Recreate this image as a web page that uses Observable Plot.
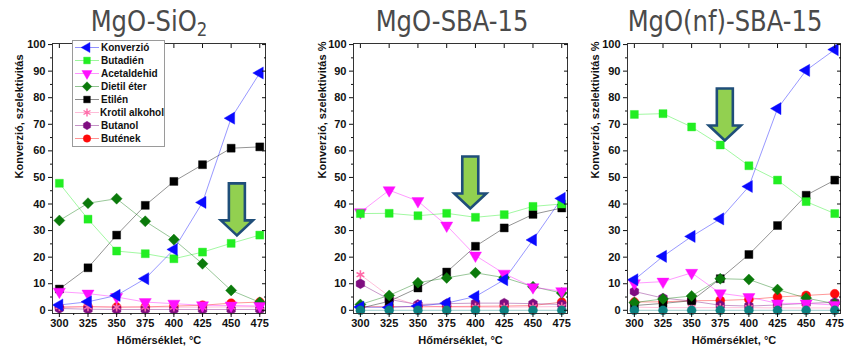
<!DOCTYPE html>
<html>
<head>
<meta charset="utf-8">
<script src="https://cdn.jsdelivr.net/npm/d3@7"></script>
<script src="https://cdn.jsdelivr.net/npm/@observablehq/plot@0.6"></script>
<style>
  body { margin: 0; background: #fff; font-family: "Liberation Sans", Arial, sans-serif; }
  #wrap { position: relative; width: 844px; height: 349px; overflow: hidden; background: #fff; }
  .panel { position: absolute; top: 0; }
  .title { position: absolute; top: 7px; line-height: 1; font-family: "Liberation Sans Narrow", "DejaVu Sans Condensed", sans-serif; font-size: 29px; color: #4a4a4a; white-space: nowrap; transform: translateX(-50%) scaleX(0.93); }
  .title sub { font-size: 0.68em; vertical-align: -0.25em; line-height: 0; }
  .legend { position: absolute; left: 72px; top: 40px; width: 93px; background: #fff; border: 1px solid #9a9a9a; padding: 0 0 1px 0; box-sizing: border-box; }
  .legend .row { display: flex; align-items: center; height: 13px; font-size: 10px; font-weight: bold; color: #111; white-space: nowrap; }
  .legend svg { display: block; margin-right: 1px; }
</style>
</head>
<body>
<div id="wrap"></div>
<script>
// ---- data ----
const temps = [300, 325, 350, 375, 400, 425, 450, 475];
const seriesNames = ["Konverzió", "Butadién", "Acetaldehid", "Dietil éter", "Etilén", "Krotil alkohol", "Butanol", "Butének"];
const panelTitles = ["MgO-SiO<sub>2</sub>", "MgO-SBA-15", "MgO(nf)-SBA-15"];
const yLabels = ["Konverzió, szelektivitás", "Konverzió, szelektivitás %", "Konverzió, szelektivitás %"];
const xLabel = "Hőmérséklet, °C";
const yTicks = [0, 10, 20, 30, 40, 50, 60, 70, 80, 90, 100];

// MgO-SiO2
const sio2Konverzio    = [2.0, 3.2, 5.6, 11.9, 22.9, 40.6, 72.3, 89.3];
const sio2Butadien     = [47.8, 34.3, 22.3, 21.3, 19.4, 21.9, 25.2, 28.3];
const sio2Acetaldehid  = [7.0, 6.3, 5.0, 3.1, 2.5, 1.9, 1.8, 1.6];
const sio2Dietileter   = [33.8, 40.3, 42.0, 33.5, 26.6, 17.5, 7.5, 3.0];
const sio2Etilen       = [8.0, 16.0, 28.3, 39.5, 48.5, 54.8, 61.0, 61.5];
const sio2Krotil       = [1.4, 1.3, 1.2, 1.2, 1.2, 1.2, 1.3, 1.3];
const sio2Butanol      = [0.7, 0.4, 0.3, 0.3, 0.3, 0.3, 0.3, 0.3];
const sio2Butenek      = [1.1, 1.4, 1.2, 1.3, 1.6, 1.9, 2.7, 3.1];
const sio2Egyeb        = [];

// MgO-SBA-15
const sbaKonverzio     = [1.2, 1.1, 1.6, 2.7, 5.2, 11.5, 26.5, 42.1];
const sbaButadien      = [36.4, 36.5, 35.6, 36.5, 35.0, 36.0, 39.1, 40.0];
const sbaAcetaldehid   = [36.9, 45.2, 41.1, 31.9, 20.6, 13.8, 8.7, 7.2];
const sbaDietileter    = [2.2, 5.6, 10.4, 12.2, 14.1, 12.3, 8.9, 6.5];
const sbaEtilen        = [0.8, 3.4, 8.4, 14.4, 24.1, 31.0, 36.1, 38.5];
const sbaKrotil        = [13.4, 5.3, 1.8, 1.2, 1.2, 1.2, 1.3, 1.4];
const sbaButanol       = [10.0, 4.1, 2.2, 2.5, 2.7, 2.7, 2.5, 2.2];
const sbaButenek       = [1.3, 1.4, 1.3, 1.4, 1.5, 1.6, 1.8, 3.1];
const sbaEgyeb         = [0, 0, 0, 0, 0, 0, 0, 0];

// MgO(nf)-SBA-15
const nfKonverzio      = [11.5, 20.3, 27.8, 34.4, 46.6, 75.9, 90.3, 98.1];
const nfButadien       = [73.7, 74.0, 69.0, 62.2, 54.4, 49.0, 40.9, 36.4];
const nfAcetaldehid    = [10.2, 10.8, 14.1, 6.4, 5.0, 2.6, 2.6, 2.0];
const nfDietileter     = [2.9, 4.3, 5.4, 11.9, 11.6, 7.8, 4.6, 2.5];
const nfEtilen         = [1.8, 2.6, 3.6, 11.9, 21.0, 31.9, 43.3, 49.0];
const nfKrotil         = [1.2, 1.0, 1.0, 1.0, 1.0, 0.9, 0.9, 0.9];
const nfButanol        = [7.1, 4.6, 3.5, 1.9, 1.6, 2.0, 2.6, 3.0];
const nfButenek        = [3.1, 3.2, 3.6, 3.7, 4.1, 5.0, 5.6, 6.2];
const nfEgyeb          = [0, 0, 0, 0, 0, 0, 0, 0];

// annotation arrows (tip position in data units)
const arrowTemp  = [455, 395.5, 379];
const arrowValue = [28.2, 38.3, 63.9];

// ---- styles ----
const hexagon = { draw(ctx, size) { const r = Math.sqrt(size / 2.598); for (let i = 0; i < 6; i++) { const a = Math.PI / 3 * i + Math.PI / 6; const px = r * Math.cos(a), py = r * Math.sin(a); i ? ctx.lineTo(px, py) : ctx.moveTo(px, py); } ctx.closePath(); } };
const arrowSymbol = { draw(ctx) { ctx.moveTo(0, 0); ctx.lineTo(-16, -15); ctx.lineTo(-8, -15); ctx.lineTo(-8, -52); ctx.lineTo(8, -52); ctx.lineTo(8, -15); ctx.lineTo(16, -15); ctx.closePath(); } };

const styles = {
  "Konverzió":      { color: "#0a0aff", symbol: "triangle", d3sym: d3.symbolTriangle, rotate: -90 },
  "Butadién":       { color: "#22ee22", symbol: "square",   d3sym: d3.symbolSquare,   rotate: 0 },
  "Acetaldehid":    { color: "#ff10ff", symbol: "triangle", d3sym: d3.symbolTriangle, rotate: 180 },
  "Dietil éter":    { color: "#0b7a0b", symbol: "square",   d3sym: d3.symbolSquare,   rotate: 45 },
  "Etilén":         { color: "#000000", symbol: "square",   d3sym: d3.symbolSquare,   rotate: 0 },
  "Krotil alkohol": { color: "#ff6aa8", symbol: "asterisk", d3sym: d3.symbolAsterisk, rotate: 0, stroked: true },
  "Butanol":        { color: "#7f0d80", symbol: hexagon,    d3sym: hexagon,           rotate: 0 },
  "Butének":        { color: "#ff0a0a", symbol: "circle",   d3sym: d3.symbolCircle,   rotate: 0 },
  "Egyéb":          { color: "#0b8080", symbol: "circle",   d3sym: d3.symbolCircle,   rotate: 0 }
};
const drawOrder = ["Butének", "Butanol", "Krotil alkohol", "Etilén", "Dietil éter", "Acetaldehid", "Butadién", "Konverzió", "Egyéb"];

const panelValues = [
  { "Konverzió": sio2Konverzio, "Butadién": sio2Butadien, "Acetaldehid": sio2Acetaldehid, "Dietil éter": sio2Dietileter, "Etilén": sio2Etilen, "Krotil alkohol": sio2Krotil, "Butanol": sio2Butanol, "Butének": sio2Butenek, "Egyéb": sio2Egyeb },
  { "Konverzió": sbaKonverzio, "Butadién": sbaButadien, "Acetaldehid": sbaAcetaldehid, "Dietil éter": sbaDietileter, "Etilén": sbaEtilen, "Krotil alkohol": sbaKrotil, "Butanol": sbaButanol, "Butének": sbaButenek, "Egyéb": sbaEgyeb },
  { "Konverzió": nfKonverzio, "Butadién": nfButadien, "Acetaldehid": nfAcetaldehid, "Dietil éter": nfDietileter, "Etilén": nfEtilen, "Krotil alkohol": nfKrotil, "Butanol": nfButanol, "Butének": nfButenek, "Egyéb": nfEgyeb }
];

const layout = [
  { left: 0,   width: 270, ml: 52, mr: 5, ydx: -33, titleX: 149 },
  { left: 300, width: 270, ml: 53, mr: 3, ydx: -31, titleX: 452 },
  { left: 574, width: 270, ml: 53, mr: 4, ydx: -32, titleX: 725 }
];

const wrap = document.getElementById("wrap");
const minorX = d3.range(312.5, 480, 25);
const minorY = d3.range(5, 100, 10);

layout.forEach((L, i) => {
  const vals = panelValues[i];
  const marks = [];
  for (const name of drawOrder) {
    const v = vals[name];
    if (!v || !v.length) continue;
    const rows = temps.map((t, j) => ({ t, v: v[j] }));
    marks.push(Plot.line(rows, { x: "t", y: "v", stroke: styles[name].color, strokeOpacity: 0.42, strokeWidth: 1 }));
  }
  for (const name of drawOrder) {
    const v = vals[name];
    if (!v || !v.length) continue;
    const s = styles[name];
    const rows = temps.map((t, j) => ({ t, v: v[j] }));
    if (s.stroked) {
      marks.push(Plot.dot(rows, { x: "t", y: "v", symbol: s.symbol, r: 4.2, stroke: s.color, strokeWidth: 1.6, fill: "none" }));
    } else {
      marks.push(Plot.dot(rows, { x: "t", y: "v", symbol: s.symbol, r: name === "Dietil éter" ? 4.4 : 4.5, rotate: s.rotate, fill: s.color, stroke: s.color, strokeWidth: 0.4 }));
    }
  }
  marks.push(Plot.dot([{ t: arrowTemp[i], v: arrowValue[i] }], { x: "t", y: "v", symbol: arrowSymbol, r: 5, fill: "#92d050", stroke: "#1f4e79", strokeWidth: 2.6, strokeLinejoin: "miter" }));
  marks.push(
    Plot.frame({ stroke: "#333", strokeWidth: 1 }),
    Plot.axisX({ ticks: temps, tickSize: 4, tickPadding: 2, label: null, tickFormat: d => String(d) }),
    Plot.axisX({ ticks: minorX, tickSize: 2, label: null, tickFormat: () => "" }),
    Plot.axisX({ anchor: "top", ticks: temps, tickSize: -4, label: null, tickFormat: () => "" }),
    Plot.axisY({ ticks: yTicks, tickSize: 4, tickPadding: 3, label: null, tickFormat: d => String(d) }),
    Plot.axisY({ ticks: minorY, tickSize: 2, label: null, tickFormat: () => "" }),
    Plot.axisY({ anchor: "right", ticks: yTicks, tickSize: -4, label: null, tickFormat: () => "" }),
    Plot.axisY({ anchor: "right", ticks: minorY, tickSize: -2, label: null, tickFormat: () => "" }),
    Plot.text([yLabels[i]], { frameAnchor: "left", dx: L.ydx, rotate: -90, fontSize: 11, fontWeight: "bold", fill: "#111" }),
    Plot.text([xLabel], { frameAnchor: "bottom", dy: 30, fontSize: 11, fontWeight: "bold", fill: "#111" })
  );
  const plot = Plot.plot({
    width: L.width,
    height: 349,
    marginLeft: L.ml,
    marginRight: L.mr,
    marginTop: 43,
    marginBottom: 36,
    x: { domain: [294, 480] },
    y: { domain: [-1.2, 100.4] },
    style: { background: "transparent", fontFamily: "'Liberation Sans', Arial, sans-serif", fontSize: "11px", fontWeight: "bold", color: "#111", overflow: "visible" },
    marks
  });
  plot.classList.add("panel");
  plot.style.left = L.left + "px";
  wrap.appendChild(plot);
});

layout.forEach((L, i) => {
  const t = document.createElement("div");
  t.className = "title";
  t.style.left = L.titleX + "px";
  t.innerHTML = panelTitles[i];
  wrap.appendChild(t);
});

const legend = document.createElement("div");
legend.className = "legend";
seriesNames.forEach(name => {
  const s = styles[name];
  const row = document.createElement("div");
  row.className = "row";
  const svg = d3.create("svg").attr("width", 27).attr("height", 13);
  svg.append("line").attr("x1", 2).attr("x2", 26).attr("y1", 6.5).attr("y2", 6.5).attr("stroke", s.color).attr("stroke-opacity", 0.45);
  svg.append("path")
    .attr("d", d3.symbol(s.d3sym, 45)())
    .attr("transform", `translate(14,6.5) rotate(${s.rotate})`)
    .attr("fill", s.stroked ? "none" : s.color)
    .attr("stroke", s.color)
    .attr("stroke-width", s.stroked ? 1.4 : 0.4);
  row.appendChild(svg.node());
  const span = document.createElement("span");
  span.textContent = name;
  row.appendChild(span);
  legend.appendChild(row);
});
wrap.appendChild(legend);
</script>
</body>
</html>
